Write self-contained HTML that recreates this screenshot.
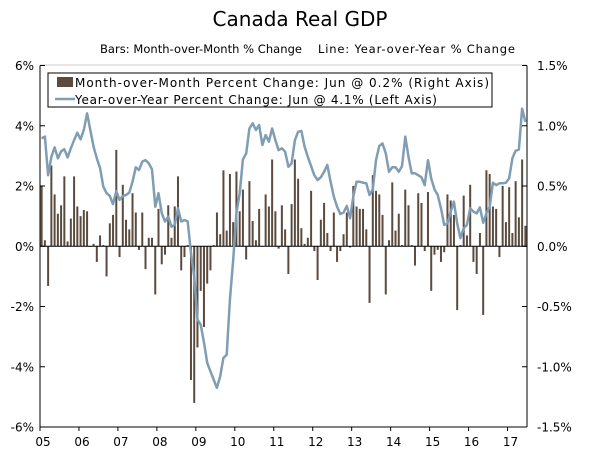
<!DOCTYPE html>
<html><head><meta charset="utf-8"><style>
html,body{margin:0;padding:0;background:#fff;}
svg{display:block;font-family:"DejaVu Sans","Liberation Sans",sans-serif;}
</style></head><body>
<svg id="chart" width="600" height="469">
<text x="300" y="26" text-anchor="middle" font-size="20" fill="#000">Canada Real GDP</text>
<text x="100" y="53" font-size="11.5" textLength="202" fill="#000">Bars: Month-over-Month % Change</text>
<text x="318" y="53" font-size="11.5" textLength="197" fill="#000">Line: Year-over-Year % Change</text>
<g id="plot"></g>
<g id="axes"></g>
<g>
<rect x="48" y="73" width="444" height="34" fill="#fff" stroke="#000" stroke-width="1"/>
<rect x="57" y="77" width="16" height="10" fill="#5a4b3e"/>
<text x="75" y="87" font-size="12" textLength="414" fill="#000">Month-over-Month Percent Change: Jun @ 0.2% (Right Axis)</text>
<line x1="55" y1="99" x2="75" y2="99" stroke="#7f9db3" stroke-width="2.5"/>
<text x="75" y="104" font-size="12" textLength="362" fill="#000">Year-over-Year Percent Change: Jun @ 4.1% (Left Axis)</text>
</g>
</svg>
<script>
const mom = [0.5,0.05,-0.33,0.67,0.43,0.27,0.34,0.58,0.04,0.23,0.58,0.33,
0.25,0.3,0.29,0,0.02,-0.13,0.09,0.01,-0.25,0.19,0.26,0.8,
-0.09,0.51,0.22,0.14,0.44,0.28,-0.03,0.28,-0.19,0.07,0.07,-0.4,
0.31,-0.15,-0.07,0.34,0.07,0.33,0.58,-0.2,-0.09,0.01,-1.11,-1.3,
-0.84,-0.37,-0.67,-0.31,-0.2,0.01,0.28,0.1,0.63,0.13,0.6,0.2,
0.62,0.29,0.47,-0.11,0.54,0.21,0.05,0.31,0,0.43,0.33,0.72,
0.29,-0.02,0.34,0.14,-0.23,0.35,0.72,0.56,0.15,0.02,
0.07,0.46,-0.04,-0.28,0.22,0.36,0.11,-0.04,0.28,-0.13,
-0.04,0.1,0.28,-0.01,0.5,0.33,0.31,0.31,0.14,-0.47,
0.59,0.46,0.43,0.26,-0.4,0.05,0.53,0.13,0.27,0.01,
0.47,0.34,0.01,-0.16,0.44,0.36,-0.04,0.45,-0.37,-0.07,
-0.03,-0.13,-0.05,0.43,0.38,0.26,-0.53,0.01,0.42,0.09,
0.51,-0.13,-0.23,0.11,-0.57,0.63,0.6,0.33,0.31,-0.09,
0.5,0.2,0.49,0.11,0.54,0.24,0.72,0.17];
const yoy = [3.58,3.64,2.36,2.97,3.28,2.92,3.15,3.22,2.95,3.25,3.52,3.77,
3.55,3.86,4.41,3.86,3.3,2.92,2.59,1.98,1.76,1.67,1.4,1.83,
1.54,1.67,1.7,1.78,2.14,2.62,2.53,2.81,2.86,2.75,2.55,1.31,
1.76,1.09,0.82,0.98,0.65,0.71,1.26,0.82,0.87,0.82,-0.23,-1.0,
-2.44,-2.6,-3.2,-3.87,-4.15,-4.43,-4.7,-4.32,-3.71,-3.6,-1.78,-0.45,
1.09,1.76,2.88,3.08,3.91,4.08,3.86,4.02,3.36,3.69,3.47,3.91,
3.52,3.19,3.25,3.14,2.64,2.75,3.52,3.8,3.83,3.3,
2.97,2.66,2.36,2.2,2.29,2.47,2.7,2.14,1.65,1.31,
1.07,1.12,1.34,0.93,1.65,2.14,2.14,2.11,2.09,1.7,
1.89,2.86,3.33,3.41,3.08,2.47,2.62,2.62,2.47,2.66,
3.64,2.97,2.42,2.42,2.36,2.29,2.03,2.86,2.25,1.89,
1.7,1.26,0.71,0.76,1.15,1.48,0.76,0.27,0.6,0.71,
1.26,1.15,1.09,1.29,0.78,1.09,1.31,2.11,2.03,2.09,
2.09,2.11,2.25,2.92,3.17,3.21,4.57,4.13];
const leftTicks = ["6%","4%","2%","0%","-2%","-4%","-6%"];
const leftVals = [6,4,2,0,-2,-4,-6];
const rightTicks = ["1.5%","1.0%","0.5%","0.0%","-0.5%","-1.0%","-1.5%"];
const rightVals = [1.5,1.0,0.5,0,-0.5,-1.0,-1.5];
const years = ["05","06","07","08","09","10","11","12","13","14","15","16","17"];

const NS="http://www.w3.org/2000/svg";
const X0=40, X1=527, Y0=65.5, Y1=427;
const nMonths=150, mw=(X1-X0)/nMonths;
const xMonth=i=>X0+(i+0.5)*mw;
const yL=v=>Y0+(6-v)/12*(Y1-Y0);
const yR=v=>Y0+(1.5-v)/3*(Y1-Y0);
function mk(tag,attrs,parent){const e=document.createElementNS(NS,tag);for(const k in attrs)e.setAttribute(k,attrs[k]);parent.appendChild(e);return e;}
const plot=document.getElementById('plot'), axes=document.getElementById('axes');

mom.forEach((v,i)=>{
  const y=yR(Math.max(v,0)), h=Math.abs(yR(v)-yR(0));
  const r=mk('rect',{x:xMonth(i)-1,y:y,width:2,height:Math.max(h,0.5),fill:'#5a4b3e'},plot);
  
  
});
mk('line',{x1:X0,y1:yL(0),x2:X1,y2:yL(0),stroke:'#000','stroke-width':1},plot);
const pts=yoy.map((v,i)=>xMonth(i).toFixed(1)+','+yL(v).toFixed(1)).join(' ');
const pl=mk('polyline',{points:pts,fill:'none',stroke:'#7f9db3','stroke-width':2.5,'stroke-linejoin':'round'},plot);



mk('line',{x1:X0,y1:Y0-0.5,x2:X1,y2:Y0-0.5,stroke:'#ccc','stroke-width':1},axes);
mk('line',{x1:X0,y1:Y0,x2:X0,y2:Y1,stroke:'#000','stroke-width':1},axes);
mk('line',{x1:X1,y1:Y0,x2:X1,y2:Y1,stroke:'#000','stroke-width':1},axes);
mk('line',{x1:X0,y1:Y1,x2:X1,y2:Y1,stroke:'#000','stroke-width':1},axes);
leftVals.forEach((v,i)=>{
  mk('line',{x1:X0,y1:yL(v),x2:X0+5,y2:yL(v),stroke:'#000'},axes);
  const t=mk('text',{x:X0-6,y:yL(v)+4.5,'text-anchor':'end','font-size':12},axes);
  t.textContent=leftTicks[i];
  
  
});
rightVals.forEach((v,i)=>{
  mk('line',{x1:X1-5,y1:yR(v),x2:X1,y2:yR(v),stroke:'#000'},axes);
  const t=mk('text',{x:X1+10,y:yR(v)+4.5,'text-anchor':'start','font-size':12},axes);
  t.textContent=rightTicks[i];
  
  
});
years.forEach((y,i)=>{
  const x=X0+i*12*mw;
  mk('line',{x1:x,y1:Y1,x2:x,y2:Y1+4,stroke:'#000'},axes);
  const t=mk('text',{x:x+3,y:Y1+19,'text-anchor':'middle','font-size':12},axes);
  t.textContent=y;
  
  
});
</script>
</body></html>
